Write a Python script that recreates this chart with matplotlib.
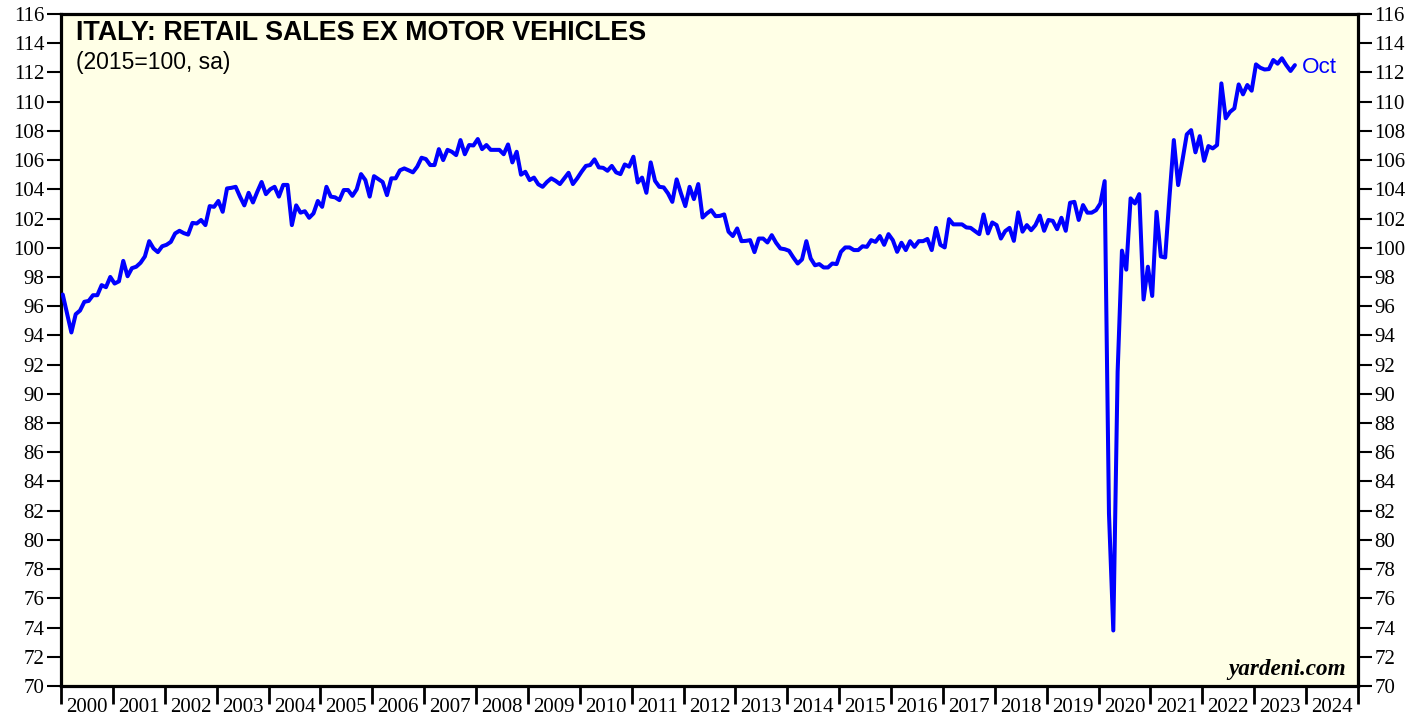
import numpy as np
import matplotlib
matplotlib.use("Agg")
import matplotlib.pyplot as plt
from matplotlib.ticker import FixedLocator, NullFormatter, FixedFormatter

# ---- data (monthly, Jan 2000 .. Oct 2023), index 2015=100 ----
start_year = 2000
values = [
    # 2000
    96.8, 95.5, 94.2, 95.45, 95.7, 96.3, 96.36, 96.75, 96.75, 97.44, 97.3, 98.0,
    # 2001
    97.55, 97.7, 99.1, 98.05, 98.6, 98.7, 98.97, 99.4, 100.45, 99.95, 99.7, 100.1,
    # 2002
    100.2, 100.4, 100.98, 101.16, 101.0, 100.9, 101.7, 101.66, 101.9, 101.55, 102.85, 102.8,
    # 2003
    103.2, 102.46, 104.06, 104.1, 104.17, 103.5, 102.9, 103.76, 103.1, 103.83, 104.5, 103.67,
    # 2004
    104.0, 104.17, 103.5, 104.3, 104.3, 101.55, 102.9, 102.4, 102.5, 102.05, 102.35, 103.2,
    # 2005
    102.8, 104.17, 103.5, 103.45, 103.26, 103.95, 103.95, 103.55, 104.0, 105.04, 104.63, 103.5,
    # 2006
    104.9, 104.7, 104.5, 103.6, 104.75, 104.75, 105.3, 105.43, 105.3, 105.16, 105.55, 106.16,
    # 2007
    106.07, 105.66, 105.66, 106.75, 106.0, 106.7, 106.57, 106.34, 107.37, 106.4, 107.03, 107.0,
    # 2008
    107.44, 106.75, 107.03, 106.7, 106.7, 106.7, 106.4, 107.07, 105.84, 106.57, 105.0, 105.2,
    # 2009
    104.63, 104.8, 104.34, 104.17, 104.5, 104.75, 104.58, 104.36, 104.75, 105.13, 104.36, 104.75,
    # 2010
    105.2, 105.6, 105.66, 106.05, 105.5, 105.47, 105.27, 105.6, 105.16, 105.04, 105.7, 105.55,
    # 2011
    106.23, 104.47, 104.8, 103.76, 105.84, 104.58, 104.17, 104.13, 103.72, 103.14, 104.68, 103.72,
    # 2012
    102.85, 104.17, 103.33, 104.36, 102.07, 102.35, 102.57, 102.16, 102.18, 102.28, 101.1, 100.8,
    # 2013
    101.32, 100.45, 100.47, 100.52, 99.7, 100.63, 100.63, 100.36, 100.86, 100.34, 99.95, 99.9,
    # 2014
    99.79, 99.33, 98.92, 99.2, 100.45, 99.27, 98.8, 98.88, 98.65, 98.65, 98.92, 98.88,
    # 2015
    99.72, 100.02, 100.02, 99.84, 99.84, 100.1, 100.06, 100.52, 100.4, 100.8, 100.2, 100.93,
    # 2016
    100.52, 99.72, 100.34, 99.84, 100.45, 100.06, 100.45, 100.45, 100.6, 99.84, 101.36, 100.2,
    # 2017
    100.02, 101.96, 101.6, 101.6, 101.6, 101.39, 101.36, 101.14, 100.93, 102.28, 100.98, 101.73,
    # 2018
    101.55, 100.63, 101.14, 101.36, 100.47, 102.42, 101.1, 101.55, 101.2, 101.55, 102.2, 101.16,
    # 2019
    101.9, 101.84, 101.27, 102.05, 101.16, 103.08, 103.14, 101.9, 102.92, 102.4, 102.4, 102.57,
    # 2020
    103.03, 104.56, 81.8, 73.8, 91.5, 99.8, 98.5, 103.38, 103.03, 103.67, 96.46, 98.7,
    # 2021
    96.7, 102.46, 99.4, 99.33, 103.5, 107.37, 104.29, 106.0, 107.76, 108.05, 106.53, 107.64,
    # 2022
    105.95, 106.96, 106.8, 107.03, 111.25, 108.86, 109.3, 109.54, 111.18, 110.5, 111.14, 110.75,
    # 2023
    112.55, 112.32, 112.2, 112.23, 112.85, 112.6, 112.97, 112.5, 112.1, 112.5,
]
last_label = "Oct"
year_labels = [str(y) for y in range(2000, 2025)]
y_ticks = list(range(70, 117, 2))
title = "ITALY: RETAIL SALES EX MOTOR VEHICLES"
subtitle = "(2015=100, sa)"
source = "yardeni.com"

# ---- figure ----
W, H = 1427, 719
fig = plt.figure(figsize=(W / 100, H / 100), dpi=100)
fig.patch.set_facecolor("white")
L, R, T, B = 61, 1358, 14, 686
ax = fig.add_axes([L / W, 1 - B / H, (R - L) / W, (B - T) / H])
ax.set_facecolor("#FFFFE6")

x = start_year + (np.arange(len(values)) + 0.4) / 12.0
ax.plot(x, values, color="#0000FF", lw=2.9, solid_joinstyle="round", solid_capstyle="round",
        zorder=3, clip_on=True)

ax.set_xlim(2000, 2025)
ax.set_ylim(70, 116)

serif = ["Liberation Serif", "DejaVu Serif"]
sans = ["Liberation Sans", "DejaVu Sans"]

# y axis both sides
ax.set_yticks(y_ticks)
ax.set_yticklabels([str(v) for v in y_ticks])
ax.tick_params(axis="y", which="major", direction="out", length=10, width=1.5,
               left=True, right=True, labelleft=True, labelright=True, pad=2,
               colors="black", labelsize=15)
for t in ax.yaxis.get_major_ticks():
    t.label2.set_fontfamily(serif)
    t.label1.set_fontfamily(serif)

# x axis: year boundaries as ticks, labels centered in year
years = np.arange(2000, 2026)
ax.xaxis.set_major_locator(FixedLocator(years))
ax.xaxis.set_major_formatter(NullFormatter())
ax.xaxis.set_minor_locator(FixedLocator(np.arange(2000, 2025) + 0.5))
ax.xaxis.set_minor_formatter(FixedFormatter(year_labels))
ax.tick_params(axis="x", which="major", direction="out", length=13, width=2.0, bottom=True, top=False)
ax.tick_params(axis="x", which="minor", length=0, pad=9, labelsize=15)
for t in ax.xaxis.get_minor_ticks():
    t.label1.set_fontfamily(serif)

for s in ax.spines.values():
    s.set_linewidth(2.3)
    s.set_color("black")

# texts
ax.text(15 / (R - L), 1 - (33 - T) / (B - T), title, transform=ax.transAxes,
        fontfamily=sans, fontweight="bold", fontsize=19.4, va="center", ha="left")
ax.text(15 / (R - L), 1 - (63 - T) / (B - T), subtitle, transform=ax.transAxes,
        fontfamily=sans, fontsize=16.5, va="center", ha="left")
ax.annotate(last_label, xy=(x[-1], values[-1]), xytext=(5, -2), textcoords="offset points",
            color="#0000FF", fontfamily=sans, fontsize=16.2, va="center", ha="left")
ax.text(1 - 12 / (R - L), (B - 670) / (B - T), source, transform=ax.transAxes,
        fontfamily=serif, fontweight="bold", fontstyle="italic", fontsize=16.7,
        va="center", ha="right")

fig.savefig("out.png", dpi=100, facecolor="white")
